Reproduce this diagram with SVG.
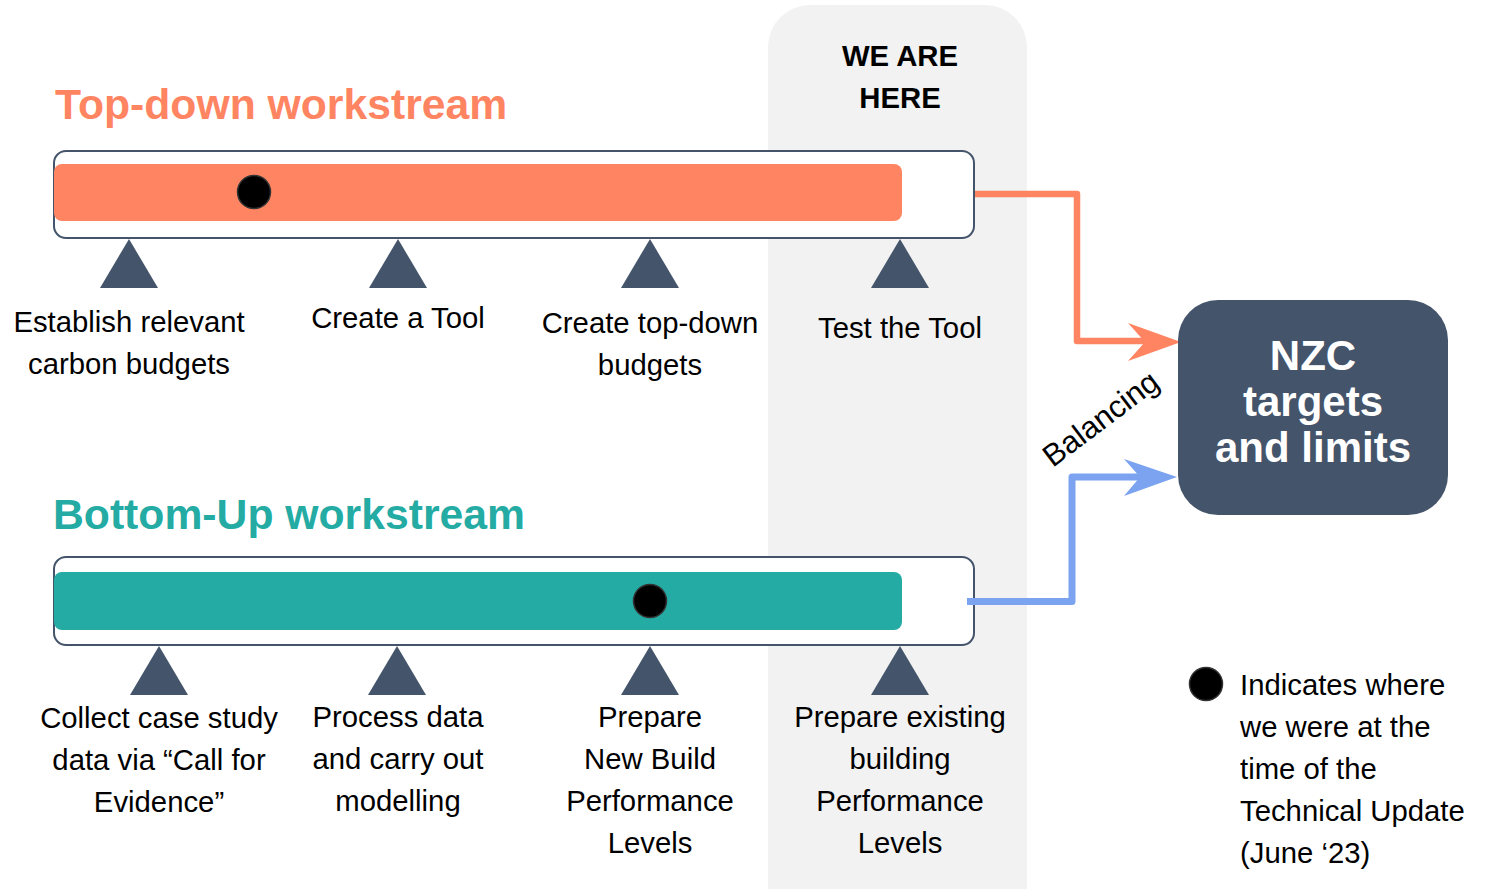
<svg xmlns="http://www.w3.org/2000/svg" width="1485" height="889" viewBox="0 0 1485 889">
<style>
.lbl{font-family:"Liberation Sans",Arial,sans-serif;font-size:29.3px;fill:#000;text-anchor:middle}
.leg{font-family:"Liberation Sans",Arial,sans-serif;font-size:29.3px;fill:#000}
.title{font-family:"Liberation Sans",Arial,sans-serif;font-size:42.7px;font-weight:bold}
.outer{fill:#fff;stroke:#44546a;stroke-width:2}
.tri{fill:#44546a}
.dot{fill:#000;stroke:#333;stroke-width:1.5}
.here{font-family:"Liberation Sans",Arial,sans-serif;font-size:29.3px;font-weight:bold;fill:#000;text-anchor:middle}
.nzc{font-family:"Liberation Sans",Arial,sans-serif;font-size:42px;font-weight:bold;fill:#fff;text-anchor:middle}
</style>
<rect width="1485" height="889" fill="#fff"/>
<g id="we-are-here">
<rect x="768" y="5" width="259" height="930" rx="42" fill="#f2f2f2"/>
<text class="here" x="900" y="66">WE ARE</text>
<text class="here" x="900" y="108">HERE</text>
</g>
<g id="top-down">
<text class="title" x="55" y="119" fill="#ff8562">Top-down workstream</text>
<rect class="outer" x="54" y="151" width="920" height="87" rx="12"/>
<rect x="54" y="164" width="848" height="57" rx="8" fill="#ff8562"/>
<circle class="dot" cx="254" cy="192" r="16.5"/>
</g>
<g id="td-1"><polygon class="tri" points="129,239 100,288 158,288"/><text class="lbl" x="129" y="332">Establish relevant</text><text class="lbl" x="129" y="374">carbon budgets</text></g>
<g id="td-2"><polygon class="tri" points="398,239 369,288 427,288"/><text class="lbl" x="398" y="328">Create a Tool</text></g>
<g id="td-3"><polygon class="tri" points="650,239 621,288 679,288"/><text class="lbl" x="650" y="333">Create top-down</text><text class="lbl" x="650" y="375">budgets</text></g>
<g id="td-4"><polygon class="tri" points="900,239 871,288 929,288"/><text class="lbl" x="900" y="338">Test the Tool</text></g>
<g id="bottom-up">
<text class="title" x="53" y="529" fill="#23aba4">Bottom-Up workstream</text>
<rect class="outer" x="54" y="557" width="920" height="88" rx="12"/>
<rect x="54" y="572" width="848" height="58" rx="8" fill="#23aba4"/>
<circle class="dot" cx="650" cy="601" r="16.5"/>
</g>
<g id="bu-1"><polygon class="tri" points="159,646 130,695 188,695"/><text class="lbl" x="159" y="728">Collect case study</text><text class="lbl" x="159" y="770">data via “Call for</text><text class="lbl" x="159" y="812">Evidence”</text></g>
<g id="bu-2"><polygon class="tri" points="397,646 368,695 426,695"/><text class="lbl" x="398" y="727">Process data</text><text class="lbl" x="398" y="769">and carry out</text><text class="lbl" x="398" y="811">modelling</text></g>
<g id="bu-3"><polygon class="tri" points="650,646 621,695 679,695"/><text class="lbl" x="650" y="727">Prepare</text><text class="lbl" x="650" y="769">New Build</text><text class="lbl" x="650" y="811">Performance</text><text class="lbl" x="650" y="853">Levels</text></g>
<g id="bu-4"><polygon class="tri" points="900,646 871,695 929,695"/><text class="lbl" x="900" y="727">Prepare existing</text><text class="lbl" x="900" y="769">building</text><text class="lbl" x="900" y="811">Performance</text><text class="lbl" x="900" y="853">Levels</text></g>
<g id="connectors">
<polyline points="975,194 1077,194 1077,341 1146,341" fill="none" stroke="#ff8562" stroke-width="6.5" stroke-linejoin="round"/>
<polygon points="1181,342 1128,323 1145,342 1128,361" fill="#ff8562"/>
<polyline points="967,601.5 1072,601.5 1072,477 1141,477" fill="none" stroke="#7ba3f0" stroke-width="7" stroke-linejoin="round"/>
<polygon points="1177,477 1124,459 1140,477 1124,496" fill="#7ba3f0"/>
<text class="lbl" x="0" y="0" transform="translate(1107,427) rotate(-37)" style="font-size:31px">Balancing</text>
</g>
<g id="nzc">
<rect x="1178" y="300" width="270" height="215" rx="40" fill="#44546a"/>
<text class="nzc" x="1313" y="370">NZC</text>
<text class="nzc" x="1313" y="416">targets</text>
<text class="nzc" x="1313" y="462">and limits</text>
</g>
<g id="legend">
<circle class="dot" cx="1206" cy="684" r="16.5"/>
<text class="leg" x="1240" y="695">Indicates where</text>
<text class="leg" x="1240" y="737">we were at the</text>
<text class="leg" x="1240" y="779">time of the</text>
<text class="leg" x="1240" y="821">Technical Update</text>
<text class="leg" x="1240" y="863">(June ‘23)</text>
</g>
</svg>
